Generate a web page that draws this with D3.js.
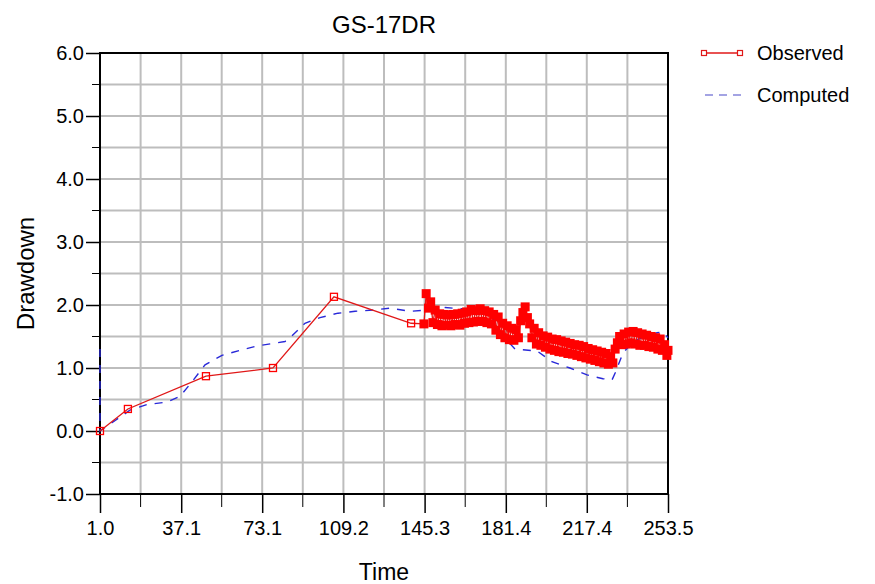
<!DOCTYPE html>
<html>
<head>
<meta charset="utf-8">
<script src="https://cdn.jsdelivr.net/npm/d3@7"></script>
<style>
  body { margin: 0; background: #fff; }
  text { font-family: "Liberation Sans", Arial, sans-serif; fill: #000; }
</style>
</head>
<body>
<div id="chart"></div>
<script>
// Tick labels
const xTickValues = [1.0, 37.1, 73.1, 109.2, 145.3, 181.4, 217.4, 253.5];
const yTickValues = [-1, 0, 1, 2, 3, 4, 5, 6];

// Observed drawdown (sparse early readings, then the dense logger record)
const obsTime = [1, 13.4, 48.1, 77.9, 105, 139.3,
  145, 146, 147, 148, 149, 150, 151, 152, 153, 154, 155, 156, 157, 158, 159,
  160, 161, 162, 163, 164, 165, 166, 167, 168, 169, 170, 171, 172, 173, 174,
  175, 176, 177, 178, 179, 180, 181, 182, 183, 184, 185, 186, 187, 188, 189,
  190, 191, 192, 193, 194, 195, 196, 197, 198, 199, 200, 201, 202, 203, 204,
  205, 206, 207, 208, 209, 210, 211, 212, 213, 214, 215, 216, 217, 218, 219,
  220, 221, 222, 223, 224, 225, 226, 227, 228, 229, 230, 231, 232, 233, 234,
  235, 236, 237, 238, 239, 240, 241, 242, 243, 244, 245, 246, 247, 248, 249,
  250, 251, 252, 253, 253.5];
const obsValue = [0.0, 0.35, 0.87, 1.0, 2.13, 1.71,
  1.70, 2.18, 1.95, 2.05, 1.72, 1.92, 1.69, 1.86, 1.67, 1.85, 1.68, 1.84, 1.67, 1.85, 1.69,
  1.86, 1.68, 1.87, 1.71, 1.89, 1.72, 1.93, 1.73, 1.91, 1.74, 1.94, 1.74, 1.91, 1.72, 1.89,
  1.70, 1.85, 1.60, 1.81, 1.53, 1.71, 1.48, 1.67, 1.45, 1.63, 1.44, 1.61, 1.48, 1.75, 1.88,
  1.97, 1.80, 1.70, 1.48, 1.63, 1.38, 1.56, 1.36, 1.51, 1.33, 1.49, 1.30, 1.46, 1.28, 1.45,
  1.26, 1.43, 1.25, 1.41, 1.23, 1.39, 1.22, 1.37, 1.20, 1.36, 1.18, 1.34, 1.16, 1.31, 1.14,
  1.29, 1.12, 1.27, 1.10, 1.25, 1.08, 1.23, 1.06, 1.18, 1.08, 1.30, 1.40, 1.50, 1.37, 1.54,
  1.38, 1.57, 1.40, 1.58, 1.38, 1.56, 1.36, 1.54, 1.36, 1.52, 1.34, 1.50, 1.33, 1.48, 1.30,
  1.46, 1.28, 1.37, 1.20, 1.28];
const denseStart = 145; // logger record starts here, markers pile up into a band

// Computed drawdown
const compTime = [1, 1, 14.3, 21.9, 30.8, 36.6, 42.3, 47.7, 55.2, 63.2, 70.8, 77.9, 83.2,
  85.5, 92.1, 98.8, 106.8, 114.4, 122.4, 129.9, 138.8, 146.8, 154.4, 161.9, 169.9,
  175.7, 178.8, 181.9, 185.5, 195.3, 201.9, 209.9, 217.5, 224.6, 228.6, 230, 233.5,
  238.8, 243.3, 248.6, 251.3, 253.5];
const compValue = [1.3, 0.0, 0.33, 0.42, 0.46, 0.55, 0.8, 1.05, 1.2, 1.28, 1.35, 1.39, 1.42,
  1.48, 1.71, 1.8, 1.87, 1.9, 1.92, 1.95, 1.9, 1.92, 1.96, 1.94, 1.87,
  1.79, 1.57, 1.44, 1.3, 1.27, 1.1, 1.0, 0.89, 0.83, 0.81, 0.92, 1.24,
  1.44, 1.49, 1.56, 1.57, 1.48];

const width = 875, height = 584;
const margin = { top: 53, right: 207, bottom: 90, left: 100 };

const svg = d3.select("#chart").append("svg")
    .attr("width", width)
    .attr("height", height);

const x = d3.scaleLinear()
    .domain([xTickValues[0], xTickValues[xTickValues.length - 1]])
    .range([margin.left, width - margin.right]);
const y = d3.scaleLinear()
    .domain([-1, 6])
    .range([height - margin.bottom, margin.top]);

// minor positions halfway between labelled ticks
const xMinor = d3.pairs(xTickValues, (a, b) => (a + b) / 2);
const yMinor = d3.pairs(yTickValues, (a, b) => (a + b) / 2);
const fmt = d => d.toFixed(1);

// Grid
const grid = svg.append("g").attr("stroke", "#bdbdbd").attr("stroke-width", 2);
grid.selectAll(".gx").data(xTickValues.concat(xMinor)).join("line")
    .attr("x1", d => x(d)).attr("x2", d => x(d))
    .attr("y1", y(6)).attr("y2", y(-1));
grid.selectAll(".gy").data(yTickValues.concat(yMinor)).join("line")
    .attr("y1", d => y(d)).attr("y2", d => y(d))
    .attr("x1", x.range()[0]).attr("x2", x.range()[1]);

// Axes
const xAxis = svg.append("g")
    .attr("transform", `translate(0,${y(-1)})`)
    .call(d3.axisBottom(x).tickValues(xTickValues).tickFormat(fmt)
        .tickSize(19).tickPadding(8));
xAxis.append("g").selectAll("line").data(xMinor).join("line")
    .attr("x1", d => x(d)).attr("x2", d => x(d))
    .attr("y1", 0).attr("y2", 13).attr("stroke", "#000");

const yAxis = svg.append("g")
    .attr("transform", `translate(${x.range()[0]},0)`)
    .call(d3.axisLeft(y).tickValues(yTickValues).tickFormat(fmt)
        .tickSize(14).tickPadding(2));
yAxis.append("g").selectAll("line").data(yMinor).join("line")
    .attr("y1", d => y(d)).attr("y2", d => y(d))
    .attr("x1", 0).attr("x2", -8).attr("stroke", "#000");

svg.selectAll(".tick text").style("font-size", "20px").attr("font-family", null);
svg.selectAll(".domain").remove();
svg.selectAll(".tick line").attr("stroke", "#000").attr("stroke-width", 1.5);

// Frame
svg.append("rect")
    .attr("x", x.range()[0]).attr("y", y(6))
    .attr("width", x.range()[1] - x.range()[0])
    .attr("height", y(-1) - y(6))
    .attr("fill", "none").attr("stroke", "#000").attr("stroke-width", 2);

// Computed line
const compData = compTime.map((t, i) => ({ t, v: compValue[i] }));
svg.append("path")
    .datum(compData)
    .attr("fill", "none")
    .attr("stroke", "#2828d8")
    .attr("stroke-width", 1.4)
    .attr("stroke-dasharray", "8,8")
    .attr("d", d3.line().x(d => x(d.t)).y(d => y(d.v)));

// Observed line and markers
const obsData = obsTime.map((t, i) => ({ t, v: obsValue[i] }));
svg.append("path")
    .datum(obsData)
    .attr("fill", "none")
    .attr("stroke", "#e01818")
    .attr("stroke-width", 1.3)
    .attr("d", d3.line().x(d => x(d.t)).y(d => y(d.v)));
svg.append("g").selectAll("rect").data(obsData).join("rect")
    .attr("x", d => x(d.t) - 3.5).attr("y", d => y(d.v) - 3.5)
    .attr("width", 7).attr("height", 7)
    .attr("fill", d => d.t >= denseStart ? "#ff0000" : "none")
    .attr("stroke", "#ff0000").attr("stroke-width", d => d.t >= denseStart ? 2 : 1.3);

// Titles
svg.append("text")
    .attr("x", (x.range()[0] + x.range()[1]) / 2).attr("y", 33)
    .attr("text-anchor", "middle").style("font-size", "24px")
    .text("GS-17DR");
svg.append("text")
    .attr("x", (x.range()[0] + x.range()[1]) / 2).attr("y", 580)
    .attr("text-anchor", "middle").style("font-size", "23px")
    .text("Time");
svg.append("text")
    .attr("transform", `translate(34,${(y(6) + y(-1)) / 2}) rotate(-90)`)
    .attr("text-anchor", "middle").style("font-size", "24px")
    .text("Drawdown");

// Legend
const legend = svg.append("g");
legend.append("line")
    .attr("x1", 704).attr("x2", 740).attr("y1", 53).attr("y2", 53)
    .attr("stroke", "#e01818").attr("stroke-width", 1.3);
legend.selectAll("rect").data([704, 740]).join("rect")
    .attr("x", d => d - 2.5).attr("y", 50.5).attr("width", 5).attr("height", 5)
    .attr("fill", "#fff").attr("stroke", "#e01818").attr("stroke-width", 1.2);
legend.append("text").attr("x", 757).attr("y", 60).style("font-size", "20px").text("Observed");
legend.append("line")
    .attr("x1", 705).attr("x2", 741).attr("y1", 95).attr("y2", 95)
    .attr("stroke", "#4848c8").attr("stroke-width", 1.2)
    .attr("stroke-dasharray", "8,6");
legend.append("text").attr("x", 757).attr("y", 102).style("font-size", "20px").text("Computed");
</script>
</body>
</html>
